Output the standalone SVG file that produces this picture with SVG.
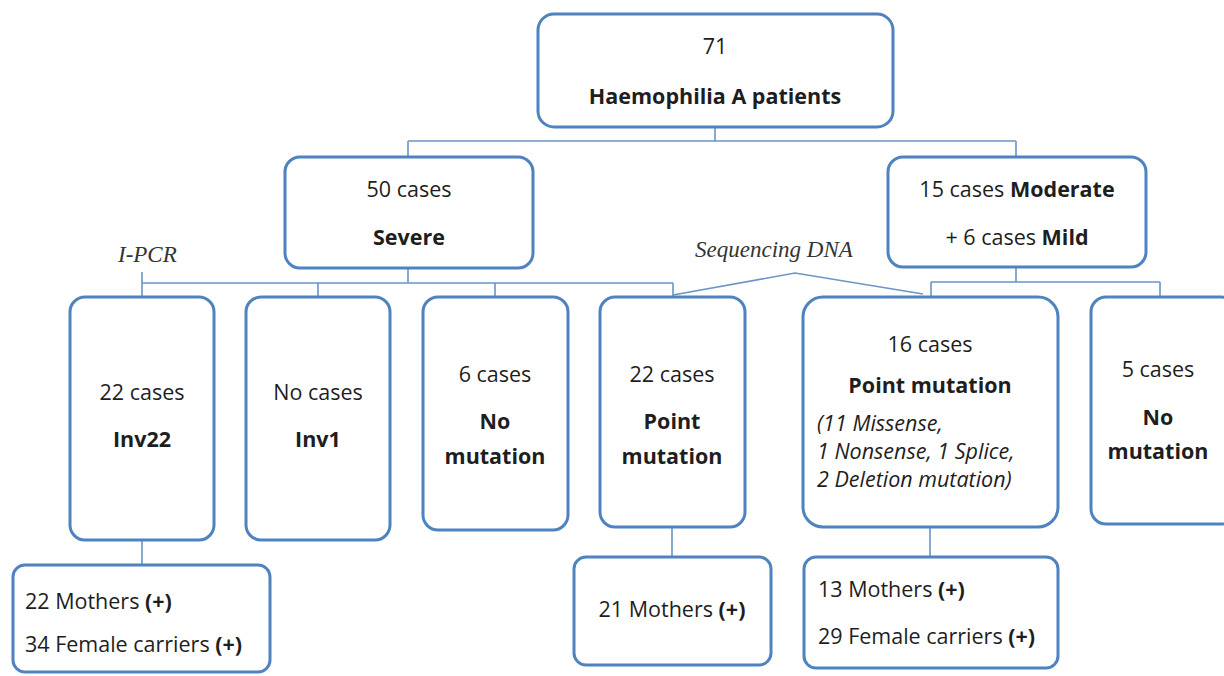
<svg xmlns="http://www.w3.org/2000/svg" width="1224" height="676" viewBox="0 0 1224 676">
<style>
.box{fill:#fff;stroke:#4f83bf;stroke-width:3}
.c{fill:none;stroke:#6a95c6;stroke-width:1.6}
text{font-family:"Open Sans",Lato,"Liberation Sans",sans-serif;font-size:21.5px;fill:#1e1e1e}
.m{text-anchor:middle}
.b{font-weight:bold}
.i{font-style:italic}
.lab{font-family:"Liberation Serif",serif;font-style:italic;font-size:23px;fill:#333}
</style>
<rect width="1224" height="676" fill="#fff"/>
<g id="connectors">
<path class="c" d="M715,127V141M408,141H1016M408,141V157M1016,141V157"/>
<path class="c" d="M408,268V283M142,283H673M142,272V297M318,283V297M495,283V297M673,283V296"/>
<path class="c" d="M1016,267V282M931,282H1160M931,282V296M1160,282V297"/>
<path class="c" d="M673,295L795,273L923,294"/>
<path class="c" d="M142,540V565M672,527V557M930,527V557"/>
</g>
<g id="top"><rect class="box" x="538" y="14" width="355" height="113" rx="16"/>
<text class="m" x="715" y="54">71</text><text class="m b" x="715" y="104">Haemophilia A patients</text></g>
<g id="severe"><rect class="box" x="285" y="157" width="248" height="111" rx="15"/>
<text class="m" x="409" y="197">50 cases</text><text class="m b" x="409" y="245">Severe</text></g>
<g id="modmild"><rect class="box" x="888" y="157" width="258" height="110" rx="15"/>
<text class="m" x="1017" y="197">15 cases <tspan class="b">Moderate</tspan></text><text class="m" x="1017" y="245">+ 6 cases <tspan class="b">Mild</tspan></text></g>
<g id="ipcr"><text class="lab" x="118" y="262">I-PCR</text></g>
<g id="seq"><text class="lab" x="695" y="257">Sequencing DNA</text></g>
<g id="inv22"><rect class="box" x="70" y="297" width="144" height="243" rx="15"/>
<text class="m" x="142" y="400">22 cases</text><text class="m b" x="142" y="447">Inv22</text></g>
<g id="inv1"><rect class="box" x="246" y="297" width="144" height="243" rx="15"/>
<text class="m" x="318" y="400">No cases</text><text class="m b" x="318" y="447">Inv1</text></g>
<g id="nomut1"><rect class="box" x="423" y="297" width="145" height="233" rx="15"/>
<text class="m" x="495" y="382">6 cases</text><text class="m b" x="495" y="429">No</text><text class="m b" x="495" y="464">mutation</text></g>
<g id="point1"><rect class="box" x="600" y="297" width="145" height="230" rx="15"/>
<text class="m" x="672" y="382">22 cases</text><text class="m b" x="672" y="429">Point</text><text class="m b" x="672" y="464">mutation</text></g>
<g id="point2"><rect class="box" x="803" y="297" width="255" height="230" rx="20"/>
<text class="m" x="930" y="352">16 cases</text><text class="m b" x="930" y="393">Point mutation</text>
<text class="i" x="817" y="431" font-size="19">(11 Missense,</text><text class="i" x="817" y="459" font-size="19">1 Nonsense, 1 Splice,</text><text class="i" x="817" y="487" font-size="19">2 Deletion mutation)</text></g>
<g id="nomut2"><rect class="box" x="1091" y="297" width="145" height="227" rx="15"/>
<text class="m" x="1158" y="377">5 cases</text><text class="m b" x="1158" y="425">No</text><text class="m b" x="1158" y="459">mutation</text></g>
<g id="carriers1"><rect class="box" x="13" y="565" width="257" height="107" rx="12"/>
<text x="25" y="609">22 Mothers <tspan class="b">(+)</tspan></text><text x="25" y="652">34 Female carriers <tspan class="b">(+)</tspan></text></g>
<g id="mothers2"><rect class="box" x="574" y="557" width="197" height="108" rx="12"/>
<text class="m" x="672" y="617">21 Mothers <tspan class="b">(+)</tspan></text></g>
<g id="carriers3"><rect class="box" x="804" y="557" width="254" height="111" rx="12"/>
<text x="818" y="597">13 Mothers <tspan class="b">(+)</tspan></text><text x="818" y="644">29 Female carriers <tspan class="b">(+)</tspan></text></g>
</svg>
